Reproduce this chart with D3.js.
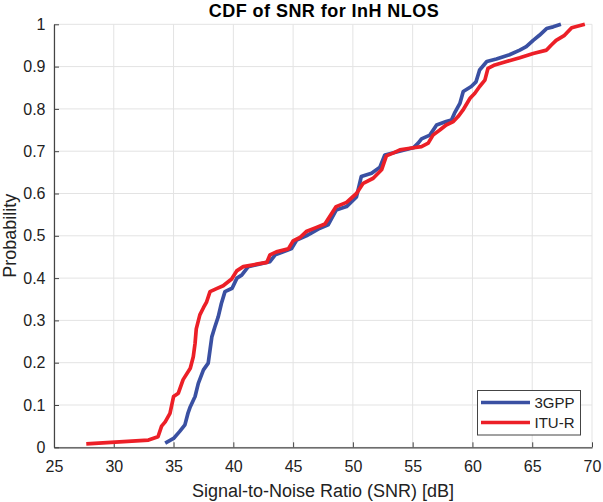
<!DOCTYPE html>
<html>
<head>
<meta charset="utf-8">
<script src="https://cdn.jsdelivr.net/npm/d3@7"></script>
<style>
html,body{margin:0;padding:0;background:#fff;}
svg{display:block;font-family:"Liberation Sans",Arial,Helvetica,sans-serif;}
</style>
</head>
<body>
<svg id="chart" width="603" height="502"></svg>
<script>
// ---- data ----
const title = "CDF of SNR for InH NLOS";
const xLabel = "Signal-to-Noise Ratio (SNR) [dB]";
const yLabel = "Probability";
const seriesNames = ["3GPP", "ITU-R"];
const seriesColors = ["#3a50a2", "#ec1f27"];
const xTicks = [25, 30, 35, 40, 45, 50, 55, 60, 65, 70];
const yTicks = [0, 0.1, 0.2, 0.3, 0.4, 0.5, 0.6, 0.7, 0.8, 0.9, 1];

const snr3gpp = [34.3,35.0,35.5,35.95,36.2,36.4,36.8,37.07,37.5,37.9,38.05,38.2,38.46,38.74,39.0,39.3,39.9,40.3,40.7,41.25,43.06,43.5,44.45,44.87,45.3,46.1,46.55,47.24,47.93,48.6,49.47,50.3,50.7,51.56,52.26,52.67,55.05,55.46,55.74,56.44,57.0,57.8,58.25,58.5,58.95,59.23,59.9,60.3,60.6,61.2,62.0,63.1,63.96,64.5,65.08,65.6,66.2,66.75,67.4];
const prob3gpp = [0.01,0.021,0.037,0.053,0.08,0.096,0.12,0.151,0.183,0.199,0.23,0.261,0.285,0.309,0.34,0.368,0.376,0.40,0.407,0.427,0.439,0.455,0.465,0.47,0.49,0.50,0.507,0.518,0.526,0.561,0.569,0.592,0.64,0.648,0.662,0.691,0.708,0.719,0.729,0.738,0.762,0.77,0.774,0.79,0.813,0.841,0.853,0.864,0.892,0.912,0.918,0.928,0.939,0.947,0.962,0.974,0.99,0.994,1.0];

const snrItu = [27.7,32.9,33.7,34.0,34.3,34.7,35.0,35.4,35.8,36.4,36.65,36.8,36.9,37.2,37.5,37.77,38.05,38.6,39.15,39.86,40.28,40.83,41.95,42.8,43.06,43.6,44.6,45.0,45.57,46.1,46.96,47.66,48.6,49.47,50.3,50.86,51.7,52.4,52.8,53.4,53.93,54.77,55.74,56.3,56.7,57.27,57.8,58.4,58.8,59.2,59.8,60.2,60.6,61.04,61.3,61.87,62.85,63.96,65.08,66.2,66.6,67.0,67.7,68.3,69.4];
const probItu = [0.008,0.017,0.025,0.05,0.06,0.08,0.12,0.128,0.16,0.187,0.214,0.246,0.28,0.313,0.33,0.344,0.368,0.375,0.382,0.398,0.417,0.427,0.433,0.437,0.455,0.462,0.469,0.488,0.496,0.51,0.52,0.528,0.569,0.579,0.6,0.624,0.636,0.656,0.689,0.696,0.703,0.707,0.711,0.719,0.738,0.75,0.762,0.77,0.782,0.797,0.825,0.837,0.853,0.868,0.896,0.904,0.912,0.921,0.931,0.939,0.951,0.962,0.974,0.992,1.0];

// ---- layout ----
const svg = d3.select("#chart");
const L = 54, R = 592, T = 24.3, B = 447.3;
const x = d3.scaleLinear().domain([25, 70]).range([L, R]);
const y = d3.scaleLinear().domain([0, 1]).range([B, T]);

// grid
const grid = svg.append("g").attr("stroke", "#e3e3e3").attr("stroke-width", 1);
grid.selectAll(".gx").data(xTicks).join("line")
  .attr("x1", d => x(d)).attr("x2", d => x(d)).attr("y1", T).attr("y2", B);
grid.selectAll(".gy").data(yTicks).join("line")
  .attr("x1", L).attr("x2", R).attr("y1", d => y(d)).attr("y2", d => y(d));

// axes
const xAxis = d3.axisBottom(x).tickValues(xTicks).tickSizeInner(-5).tickSizeOuter(0).tickPadding(13.5).tickFormat(d3.format("d"));
const yAxis = d3.axisLeft(y).tickValues(yTicks).tickSizeInner(-5).tickSizeOuter(0).tickPadding(8.5).tickFormat(d => d === 0 ? "0" : d === 1 ? "1" : d3.format(".1f")(d));

const gx = svg.append("g").attr("transform", `translate(0,${B})`).call(xAxis);
const gy = svg.append("g").attr("transform", `translate(${L},0)`).call(yAxis);
[gx, gy].forEach(g => {
  g.select(".domain").attr("stroke", "#444").attr("stroke-width", 1.2);
  g.selectAll(".tick line").attr("stroke", "#444");
  g.selectAll(".tick text").attr("fill", "#222").style("font-size", "16px").style("font-family", "'Liberation Sans',Arial,sans-serif");
});

// lines
const line = d3.line().x(d => x(d[0])).y(d => y(d[1]));
const series = [
  d3.zip(snr3gpp, prob3gpp),
  d3.zip(snrItu, probItu)
];
svg.append("g").selectAll("path").data(series).join("path")
  .attr("d", line)
  .attr("fill", "none")
  .attr("stroke", (d, i) => seriesColors[i])
  .attr("stroke-width", 3.7)
  .attr("stroke-linejoin", "round")
  .attr("stroke-linecap", "butt");

// title and labels
svg.append("text").attr("x", 324).attr("y", 17)
  .attr("text-anchor", "middle").style("font-weight", "bold").style("font-size", "18px")
  .style("letter-spacing", "0.45px")
  .attr("fill", "#000").text(title);
svg.append("text").attr("x", 323).attr("y", 497)
  .attr("text-anchor", "middle").style("font-size", "18px").attr("fill", "#222").text(xLabel);
svg.append("text").attr("transform", `translate(16,${(T + B) / 2}) rotate(-90)`)
  .attr("text-anchor", "middle").style("font-size", "18px").attr("fill", "#222").text(yLabel);

// legend
const lg = svg.append("g");
lg.append("rect").attr("x", 477.5).attr("y", 390.5).attr("width", 103).attr("height", 44.5)
  .attr("fill", "#fff").attr("stroke", "#444").attr("stroke-width", 1);
seriesNames.forEach((name, i) => {
  const yy = 402.5 + i * 20;
  lg.append("line").attr("x1", 481).attr("x2", 530).attr("y1", yy).attr("y2", yy)
    .attr("stroke", seriesColors[i]).attr("stroke-width", 3.7);
  lg.append("text").attr("x", 534.5).attr("y", yy + 5.8).style("font-size", "15px")
    .attr("fill", "#222").text(name);
});
</script>
</body>
</html>
